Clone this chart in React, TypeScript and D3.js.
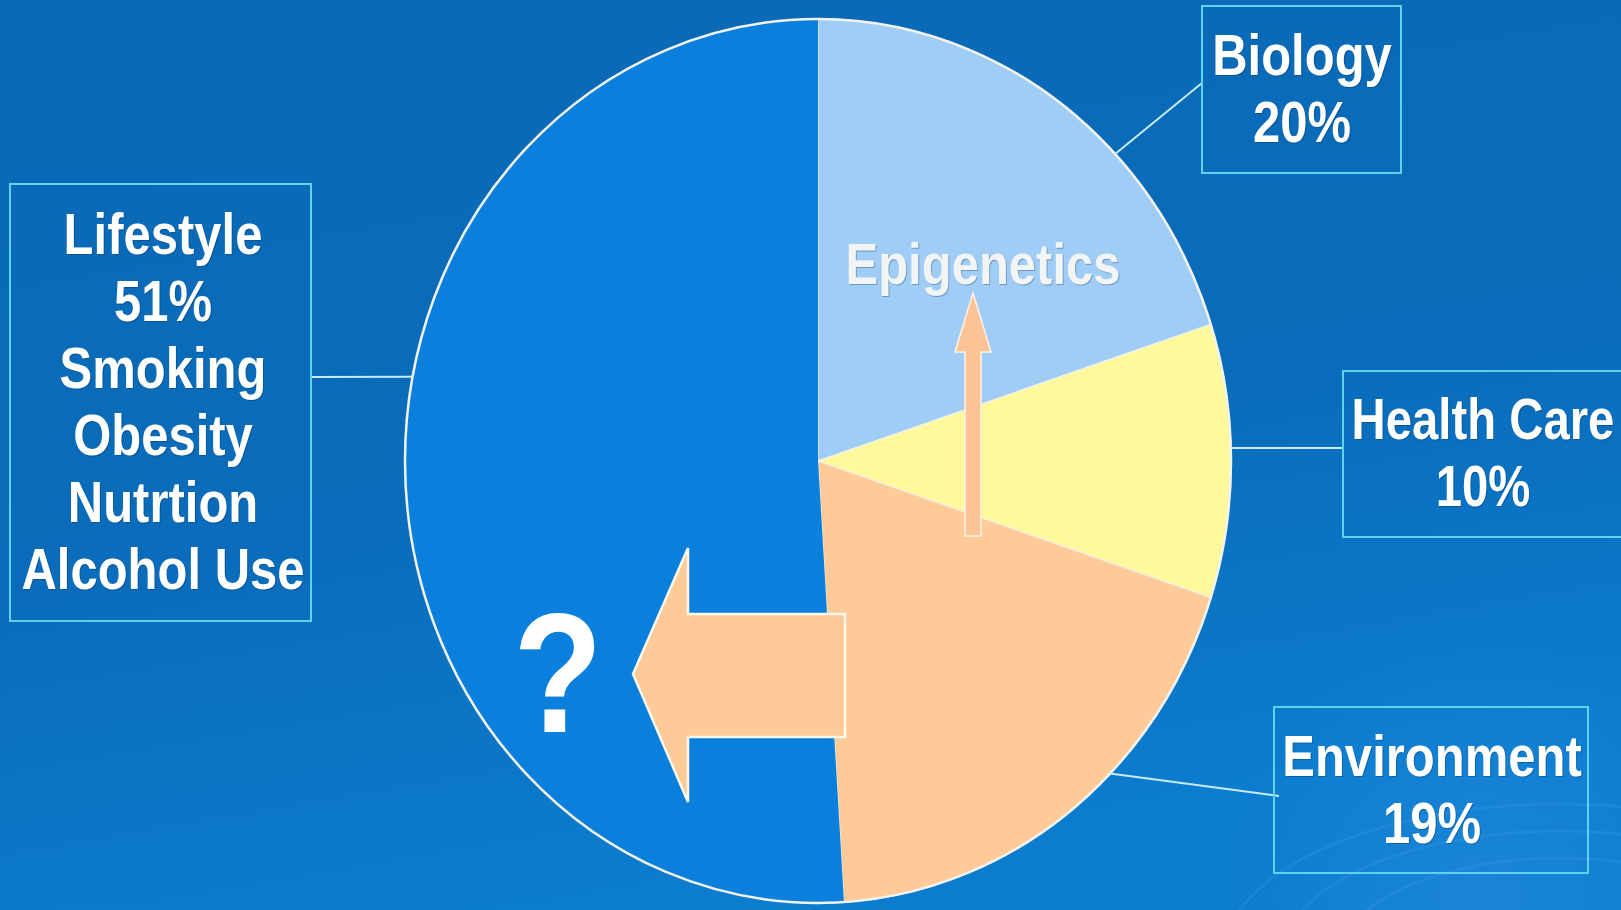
import React from "react";
import * as d3 from "d3";

const categories = ["Biology", "Health Care", "Environment", "Lifestyle"];
const values = [20, 10, 19, 51];
const sliceColors = ["#A0CDF6", "#FFF99B", "#FDCA98", "#0A80DC"];
const extraLines: string[][] = [[], [], [], ["Smoking", "Obesity", "Nutrtion", "Alcohol Use"]];

const W = 1621;
const H = 910;
const CX = 818;
const CY = 461;
const RX = 413;
const RY = 442;

const boxes = [
  { x0: 1202, y0: 6, x1: 1401, y1: 173, tx: 1302, by: 75, gap: 67, ang: 46, ex: 1202, ey: 83, sx: 0.86 },
  { x0: 1343, y0: 371, x1: 1640, y1: 537, tx: 1483, by: 439, gap: 67, ang: 88.3, ex: 1343, ey: 448, sx: 0.83 },
  { x0: 1274, y0: 707, x1: 1588, y1: 873, tx: 1432, by: 776, gap: 67, ang: 135, ex: 1279, ey: 796, sx: 0.86 },
  { x0: 10, y0: 184, x1: 311, y1: 621, tx: 163, by: 254, gap: 67, ang: 281, ex: 311, ey: 377, sx: 0.86 },
];

const FONT = "'Liberation Sans', Arial, sans-serif";
const SX = 0.86;

function Label({ x, y, text, size = 57, fill = "#FFFFFF", opacity = 1, sx = SX }: any) {
  return (
    <g transform={`translate(${x},${y}) scale(${sx},1)`}>
      <text
        textAnchor="middle"
        fontFamily={FONT}
        fontWeight="bold"
        fontSize={size}
        fill={fill}
        opacity={opacity}
        style={{ filter: "drop-shadow(1px 1px 0px rgba(0,40,90,0.35))" }}
      >
        {text}
      </text>
    </g>
  );
}

export default function App() {
  const pie = d3
    .pie<number>()
    .sort(null)
    .value((d) => d)
    .startAngle(0)
    .endAngle(2 * Math.PI);
  const arcs = pie(values);
  const arc = d3.arc<d3.PieArcDatum<number>>().innerRadius(0).outerRadius(RX);
  const sy = RY / RX;

  const pt = (deg: number) => {
    const a = (deg * Math.PI) / 180;
    return [CX + RX * Math.sin(a), CY - RY * Math.cos(a)];
  };

  const bigArrow = [
    [633, 674],
    [688, 548],
    [688, 614],
    [845, 614],
    [845, 737],
    [688, 737],
    [688, 802],
  ];
  const upArrow = [
    [973, 293],
    [991, 352],
    [981, 352],
    [981, 536],
    [965, 536],
    [965, 352],
    [955, 352],
  ];
  const line = d3.line();

  return (
    <svg
      width={W}
      height={H}
      style={{ position: "absolute", left: 0, top: 0, display: "block" }}
    >
      <defs>
        <linearGradient id="bg" x1="0" y1="0" x2="0.3" y2="1">
          <stop offset="0" stopColor="#0A69B6" />
          <stop offset="0.6" stopColor="#0A6CBA" />
          <stop offset="1" stopColor="#0C7CCF" />
        </linearGradient>
        <radialGradient id="glow" cx="1480" cy="900" r="260" gradientUnits="userSpaceOnUse">
          <stop offset="0" stopColor="#2A8FE0" stopOpacity="0.5" />
          <stop offset="1" stopColor="#2A8FE0" stopOpacity="0" />
        </radialGradient>
      </defs>
      <rect x={0} y={0} width={W} height={H} fill="url(#bg)" />
      <rect x={0} y={0} width={W} height={H} fill="url(#glow)" />
      {[170, 215, 260].map((r, i) => (
        <ellipse
          key={i}
          cx={1560}
          cy={960}
          rx={r * 1.3}
          ry={r * 0.6}
          fill="none"
          stroke="#4FA6EE"
          strokeOpacity={0.18}
          strokeWidth={3}
        />
      ))}

      <g transform={`translate(${CX},${CY}) scale(1,${sy})`}>
        {arcs.map((a, i) => (
          <path
            key={categories[i]}
            d={arc(a) || ""}
            fill={sliceColors[i]}
            stroke={i === 3 ? "none" : "#F4F4F0"}
            strokeOpacity={0.7}
            strokeWidth={1.5}
            vectorEffect="non-scaling-stroke"
          />
        ))}
        <ellipse
          cx={0}
          cy={0}
          rx={RX}
          ry={RX}
          fill="none"
          stroke="#F2F2EE"
          strokeWidth={2.5}
          vectorEffect="non-scaling-stroke"
        />
      </g>

      {boxes.map((b, i) => {
        const [x, y] = pt(b.ang);
        return (
          <line
            key={"l" + i}
            x1={x}
            y1={y}
            x2={b.ex}
            y2={b.ey}
            stroke="#C8ECF6"
            strokeWidth={2}
          />
        );
      })}

      {boxes.map((b, i) => {
        const lines = [categories[i], values[i] + "%", ...extraLines[i]];
        return (
          <g key={"b" + i}>
            <rect
              x={b.x0}
              y={b.y0}
              width={b.x1 - b.x0}
              height={b.y1 - b.y0}
              fill="none"
              stroke="#5FD2EE"
              strokeWidth={2}
            />
            {lines.map((t, j) => (
              <Label key={j} x={b.tx} y={b.by + j * b.gap} text={t} sx={b.sx} />
            ))}
          </g>
        );
      })}

      <path
        d={(line(bigArrow as any) || "") + "Z"}
        fill="#FDCA98"
        stroke="#FFF8EC"
        strokeWidth={2.5}
        strokeLinejoin="miter"
      />
      <path
        d={(line(upArrow as any) || "") + "Z"}
        fill="#FBC396"
        stroke="#FFF3E6"
        strokeWidth={1.5}
      />

      <Label x={983} y={284} text="Epigenetics" fill="#F8F8F4" opacity={0.95} />

      <g transform={`translate(558,732) scale(${SX},1)`}>
        <text
          textAnchor="middle"
          fontFamily={FONT}
          fontWeight="bold"
          fontSize={170}
          fill="#FFFFFF"
        >
          ?
        </text>
      </g>
    </svg>
  );
}
